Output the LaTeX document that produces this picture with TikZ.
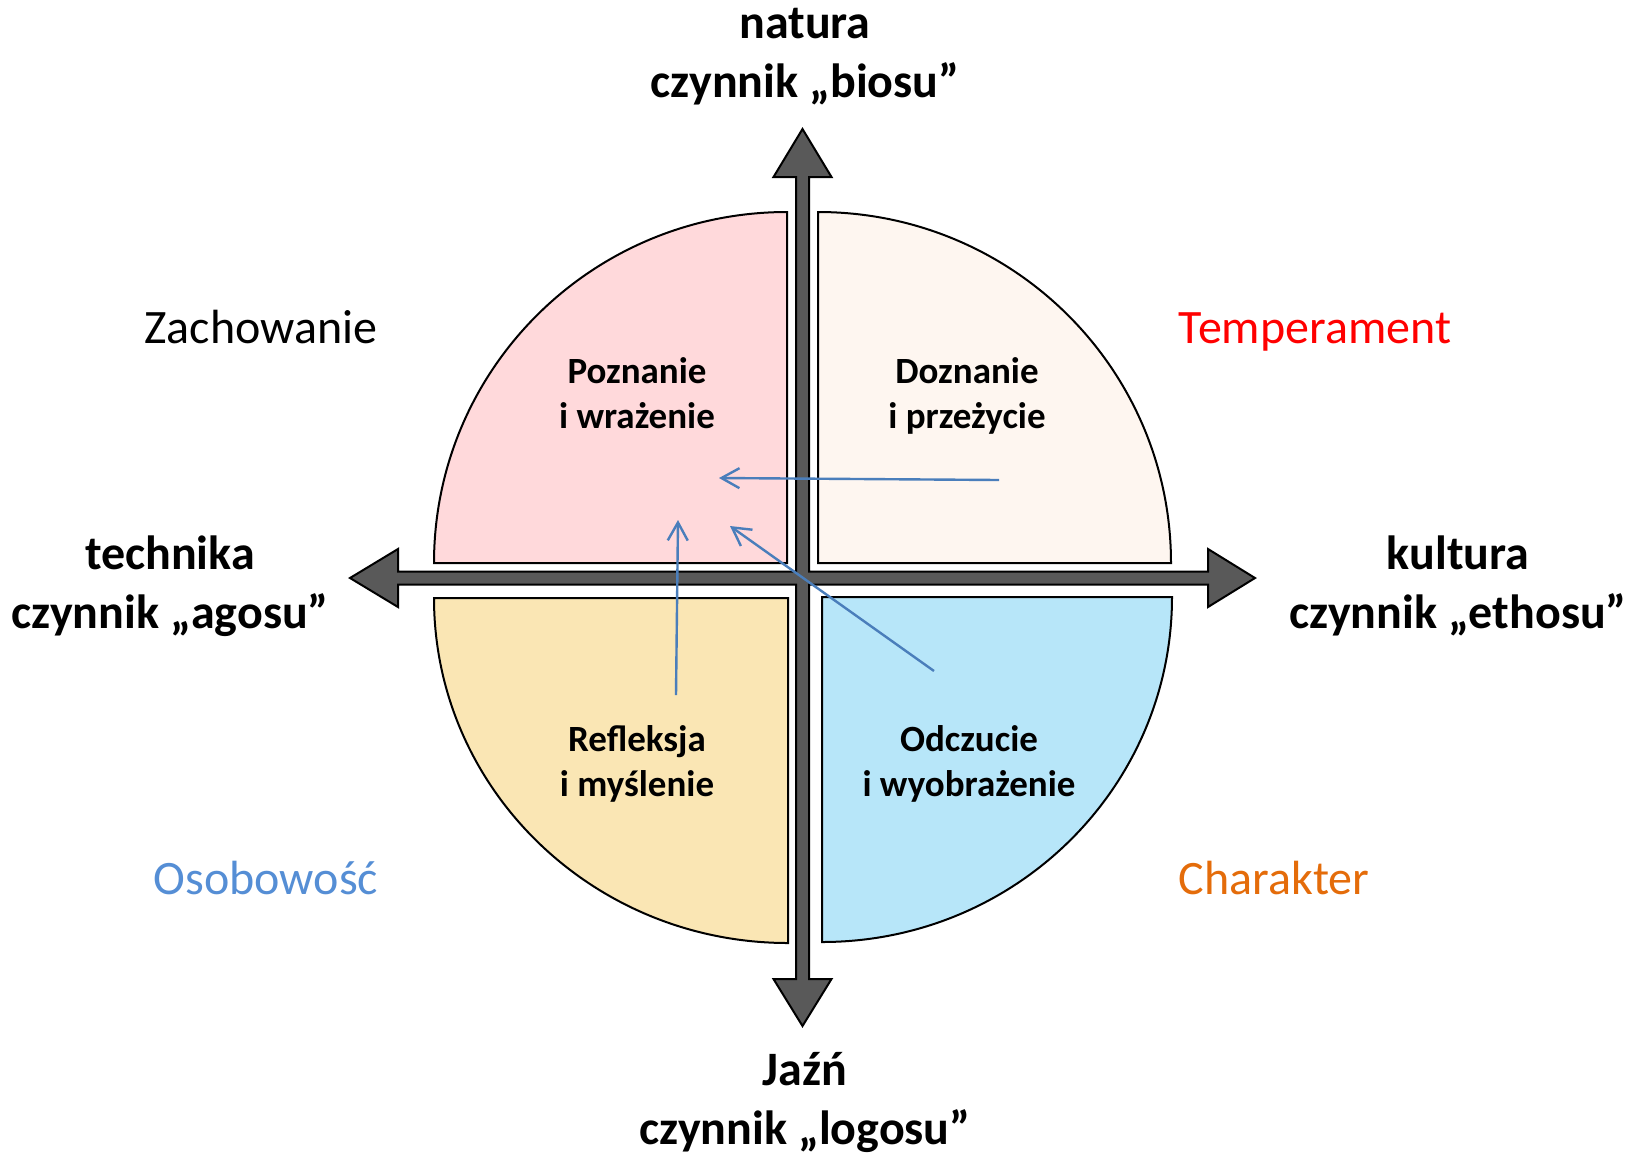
\documentclass[tikz,border=0pt]{standalone}
\usepackage{fontspec}
\setmainfont{Carlito}
\usetikzlibrary{arrows.meta}
\definecolor{axisgray}{HTML}{595959}
\definecolor{qpink}{HTML}{FFD9DB}
\definecolor{qcream}{HTML}{FEF6F0}
\definecolor{qyellow}{HTML}{FAE6B4}
\definecolor{qblue}{HTML}{B7E6F9}
\definecolor{linkblue}{HTML}{4A7EBB}
\definecolor{persblue}{HTML}{558ED5}
\definecolor{charorange}{HTML}{E46C0A}
\definecolor{tempred}{HTML}{FF0000}
\tikzset{
  quadrant/.style={draw=black, line width=1pt},
  axisshape/.style={draw=black, fill=axisgray, line width=1pt, line join=miter},
  axislabel/.style={font=\fontsize{24}{29.5}\selectfont\bfseries, align=center, inner sep=0pt},
  quadlabel/.style={font=\fontsize{18.5}{22.5}\selectfont\bfseries, align=center, inner sep=0pt},
  sidelabel/.style={font=\fontsize{24}{28}\selectfont, inner sep=0pt, anchor=base},
  link/.style={draw=linkblue, line width=1.2pt, -{Straight Barb[length=9pt, width=10pt, line width=1.2pt]}}
}
\begin{document}
\begin{tikzpicture}[x=0.5pt, y=-0.5pt]
\useasboundingbox (0,0) rectangle (1644,1153);
% quadrants
\path[quadrant, fill=qpink] (787,563) -- (434,563) arc[start angle=180, end angle=270, x radius=353, y radius=351] -- cycle;
\path[quadrant, fill=qcream] (818,563) -- (818,212) arc[start angle=270, end angle=360, x radius=353, y radius=351] -- cycle;
\path[quadrant, fill=qyellow] (788,598) -- (788,943) arc[start angle=90, end angle=180, x radius=354, y radius=345] -- cycle;
\path[quadrant, fill=qblue] (822,597) -- (1172,597) arc[start angle=0, end angle=90, x radius=350, y radius=345] -- cycle;
% axes (four-way arrow)
\path[axisshape] (802.5,129) -- (831.5,177) -- (809,177) -- (809,571.5) -- (1208,571.5) -- (1208,549) -- (1255,578) -- (1208,607) -- (1208,584.5) -- (809,584.5) -- (809,979) -- (831.5,979) -- (802.5,1026) -- (773.5,979) -- (796,979) -- (796,584.5) -- (398,584.5) -- (398,607) -- (350,578) -- (398,549) -- (398,571.5) -- (796,571.5) -- (796,177) -- (773.5,177) -- cycle;
% quadrant labels
\node[quadlabel] (poz) at (637,393) {Poznanie\\i wrażenie};
\node[quadlabel] (dozn) at (967,396) {Doznanie\\i przeżycie};
\node[quadlabel] (refl) at (637,764) {Refleksja\\i myślenie};
\node[quadlabel] (odcz) at (969,764) {Odczucie\\i wyobrażenie};
% axis labels
\node[axislabel] (top) at (805,56.5) {natura\\czynnik „biosu”};
\node[axislabel] (left) at (170,586) {technika\\czynnik „agosu”};
\node[axislabel] (right) at (1458,586) {kultura\\czynnik „ethosu”};
\node[axislabel] (bottom) at (805,1102) {Jaźń\\czynnik „logosu”};
% side labels
\node[sidelabel] (zach) at (261,343) {Zachowanie};
\node[sidelabel, text=tempred] (temp) at (1315,343) {Temperament};
\node[sidelabel, text=persblue] (osob) at (266,894) {Osobowość};
\node[sidelabel, text=charorange] (char) at (1274,894) {Charakter};
% blue links
\coordinate (a1s) at (999,480);
\coordinate (a1e) at (719,478);
\coordinate (a2s) at (934,671);
\coordinate (a2e) at (730,526);
\coordinate (a3s) at (676,695);
\coordinate (a3e) at (678,520);
\draw[link] (a1s) -- (a1e);
\draw[link] (a2s) -- (a2e);
\draw[link] (a3s) -- (a3e);
\end{tikzpicture}
\end{document}
